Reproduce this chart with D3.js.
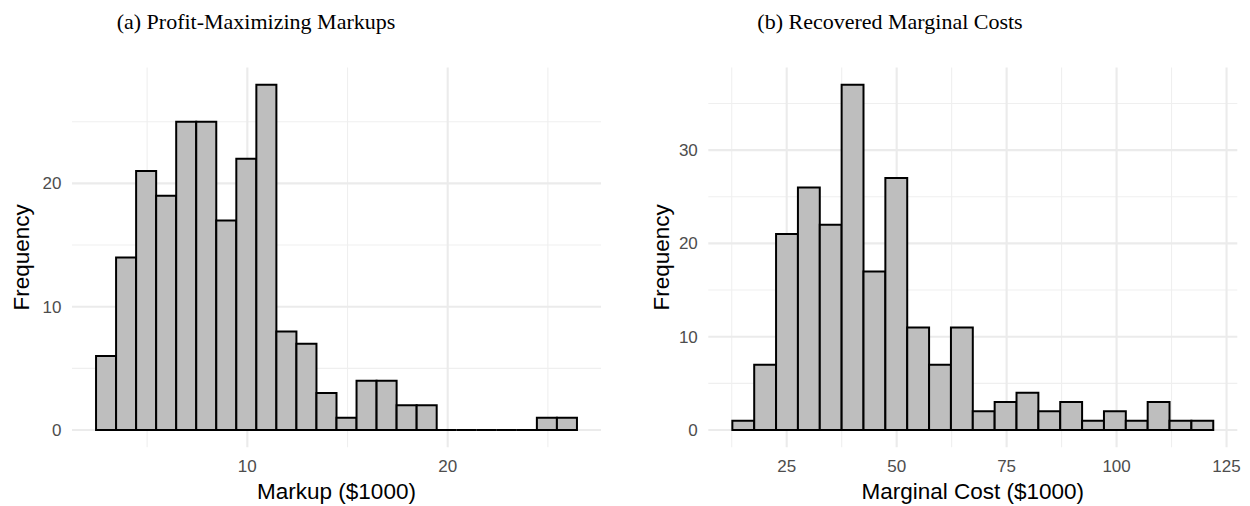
<!DOCTYPE html>
<html>
<head>
<meta charset="utf-8">
<script src="https://cdn.jsdelivr.net/npm/d3@7"></script>
<style>
  body { margin: 0; background: #fff; }
  .tick-label { font-family: "Liberation Sans", Arial, sans-serif; font-size: 17px; fill: #4d4d4d; }
  .axis-title { font-family: "Liberation Sans", Arial, sans-serif; font-size: 22.5px; fill: #000; }
  .panel-title { font-family: "Liberation Serif", "Times New Roman", serif; font-size: 22px; fill: #000; }
</style>
</head>
<body>
<div id="chart"></div>
<script>

// (a) markups: bin edges (one more than counts) and counts
var markupEdges = [2.45, 3.45, 4.45, 5.45, 6.45, 7.45, 8.45, 9.45, 10.45, 11.45, 12.45, 13.45,
  14.45, 15.45, 16.45, 17.45, 18.45, 19.45, 20.45, 21.45, 22.45, 23.45, 24.45, 25.45, 26.45];
var markupCounts = [6, 14, 21, 19, 25, 25, 17, 22, 28, 8, 7, 3, 1, 4, 4, 2, 2, 0, 0, 0, 0, 0, 1, 1];
var markupXTicks = [10, 20];
var markupXMinor = [5, 15, 25];
var markupYTicks = [0, 10, 20];
var markupYMinor = [5, 15, 25];

// (b) marginal costs
var costEdges = [12.64, 17.61, 22.58, 27.55, 32.52, 37.49, 42.46, 47.43, 52.40, 57.37, 62.34, 67.31,
  72.28, 77.25, 82.22, 87.19, 92.16, 97.13, 102.10, 107.07, 112.04, 117.01, 121.98];
var costCounts = [1, 7, 21, 26, 22, 37, 17, 27, 11, 7, 11, 2, 3, 4, 2, 3, 1, 2, 1, 3, 1, 1];
var costXTicks = [25, 50, 75, 100, 125];
var costXMinor = [12.5, 37.5, 62.5, 87.5, 112.5];
var costYTicks = [0, 10, 20, 30];
var costYMinor = [5, 15, 25, 35];

var width = 1250, height = 506;

var svg = d3.select("#chart")
  .append("svg")
  .attr("width", width)
  .attr("height", height);

function histogram(opts) {
  var bins = opts.counts.map(function (c, i) {
    return { x0: opts.edges[i], x1: opts.edges[i + 1], n: c };
  });

  // ggplot-style 5% expansion
  var xr = d3.extent(opts.edges);
  var xpad = (xr[1] - xr[0]) * 0.05;
  var ymax = d3.max(opts.counts);
  var ypad = ymax * 0.05;

  var x = d3.scaleLinear()
    .domain([xr[0] - xpad, xr[1] + xpad])
    .range([opts.left, opts.right]);
  var y = d3.scaleLinear()
    .domain([-ypad, ymax + ypad])
    .range([opts.bottom, opts.top]);

  var g = svg.append("g");

  // minor grid
  g.selectAll(".ymin").data(opts.yMinor.filter(function (v) { return v < ymax + ypad; }))
    .enter().append("line")
    .attr("x1", opts.left).attr("x2", opts.right)
    .attr("y1", function (d) { return y(d); }).attr("y2", function (d) { return y(d); })
    .attr("stroke", "#efefef").attr("stroke-width", 1.1);
  g.selectAll(".xmin").data(opts.xMinor)
    .enter().append("line")
    .attr("x1", function (d) { return x(d); }).attr("x2", function (d) { return x(d); })
    .attr("y1", opts.top).attr("y2", opts.bottom)
    .attr("stroke", "#efefef").attr("stroke-width", 1.1);

  // major grid
  g.selectAll(".ymaj").data(opts.yTicks)
    .enter().append("line")
    .attr("x1", opts.left).attr("x2", opts.right)
    .attr("y1", function (d) { return y(d); }).attr("y2", function (d) { return y(d); })
    .attr("stroke", "#ebebeb").attr("stroke-width", 2.1);
  g.selectAll(".xmaj").data(opts.xTicks)
    .enter().append("line")
    .attr("x1", function (d) { return x(d); }).attr("x2", function (d) { return x(d); })
    .attr("y1", opts.top).attr("y2", opts.bottom)
    .attr("stroke", "#ebebeb").attr("stroke-width", 2.1);

  // bars as closed paths so empty bins still show a line at zero
  g.selectAll(".bar").data(bins)
    .enter().append("path")
    .attr("class", "bar")
    .attr("d", function (d) {
      var p = d3.path();
      p.moveTo(x(d.x0), y(0));
      p.lineTo(x(d.x0), y(d.n));
      p.lineTo(x(d.x1), y(d.n));
      p.lineTo(x(d.x1), y(0));
      p.closePath();
      return p.toString();
    })
    .attr("fill", "#bebebe")
    .attr("stroke", "#000")
    .attr("stroke-width", 2)
    .attr("stroke-linejoin", "miter");

  // tick labels
  g.selectAll(".xl").data(opts.xTicks)
    .enter().append("text")
    .attr("class", "tick-label")
    .attr("x", function (d) { return x(d); })
    .attr("y", 471.5)
    .attr("text-anchor", "middle")
    .text(function (d) { return d; });
  g.selectAll(".yl").data(opts.yTicks)
    .enter().append("text")
    .attr("class", "tick-label")
    .attr("x", opts.left - 10.5)
    .attr("y", function (d) { return y(d); })
    .attr("dy", "0.35em")
    .attr("text-anchor", "end")
    .text(function (d) { return d; });

  // axis titles
  g.append("text")
    .attr("class", "axis-title")
    .attr("x", (opts.left + opts.right) / 2)
    .attr("y", 499)
    .attr("text-anchor", "middle")
    .text(opts.xTitle);
  g.append("text")
    .attr("class", "axis-title")
    .attr("transform", "translate(" + opts.yTitleX + "," + ((opts.top + opts.bottom) / 2) + ") rotate(-90)")
    .attr("text-anchor", "middle")
    .text("Frequency");

  // panel title
  g.append("text")
    .attr("class", "panel-title")
    .attr("x", opts.titleX)
    .attr("y", 29)
    .attr("text-anchor", "middle")
    .text(opts.title);
}

histogram({
  edges: markupEdges, counts: markupCounts,
  xTicks: markupXTicks, xMinor: markupXMinor, yTicks: markupYTicks, yMinor: markupYMinor,
  left: 72, right: 601, top: 67.5, bottom: 447.3,
  xTitle: "Markup ($1000)", yTitleX: 29,
  title: "(a) Profit-Maximizing Markups", titleX: 256
});

histogram({
  edges: costEdges, counts: costCounts,
  xTicks: costXTicks, xMinor: costXMinor, yTicks: costYTicks, yMinor: costYMinor,
  left: 708.3, right: 1237.3, top: 67.5, bottom: 447.3,
  xTitle: "Marginal Cost ($1000)", yTitleX: 668.5,
  title: "(b) Recovered Marginal Costs", titleX: 890
});

</script>
</body>
</html>
